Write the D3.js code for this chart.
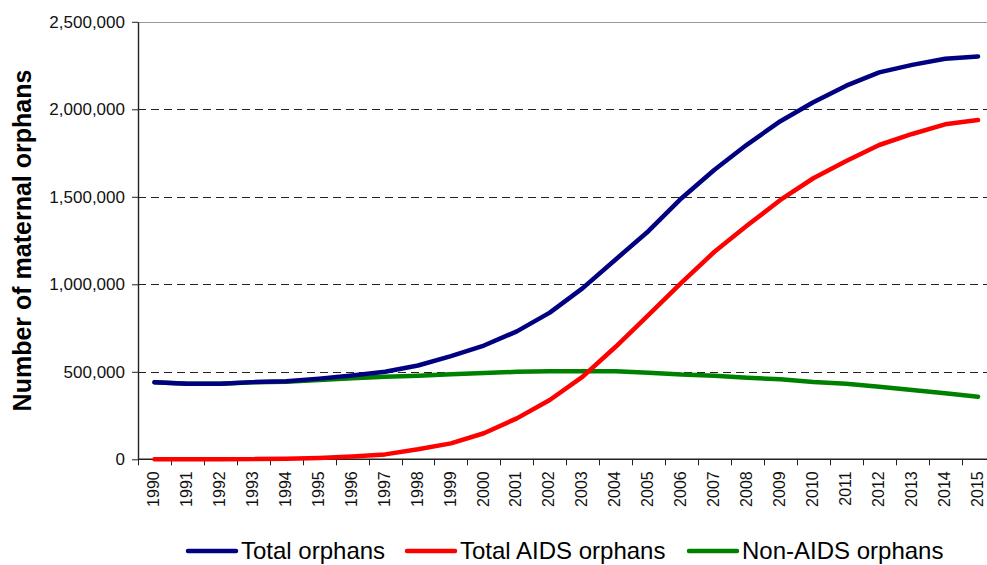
<!DOCTYPE html>
<html>
<head>
<meta charset="utf-8">
<script src="https://cdn.jsdelivr.net/npm/d3@7"></script>
<style>
    body { margin: 0; background: #fff; }
    svg { display: block; font-family: "Liberation Sans", Arial, sans-serif; }
</style>
</head>
<body>
<svg id="chart" width="987" height="565"></svg>
<script>
// Data
const years = ['1990','1991','1992','1993','1994','1995','1996','1997','1998','1999','2000','2001','2002',
               '2003','2004','2005','2006','2007','2008','2009','2010','2011','2012','2013','2014','2015'];

const total_orphans = [440000, 432000, 432000, 441000, 446000, 461000, 479000, 500000, 536000, 590000, 650000, 731000, 838000,
                       978000, 1142000, 1305000, 1492000, 1655000, 1800000, 1932000, 2040000, 2135000, 2211000, 2254000, 2289000, 2302000];

const aids_orphans = [0, 0, 0, 1000, 3000, 8000, 16000, 28000, 57000, 91000, 149000, 234000, 339000,
                      472000, 643000, 825000, 1010000, 1186000, 1337000, 1482000, 1606000, 1704000, 1796000, 1859000, 1914000, 1939000];

const non_aids_orphans = [440000, 432000, 432000, 440000, 443000, 453000, 463000, 472000, 478000, 486000, 493000, 500000, 503000,
                          503000, 503000, 495000, 484000, 478000, 466000, 457000, 442000, 432000, 415000, 396000, 377000, 358000];

const y_ticks = [0, 500000, 1000000, 1500000, 2000000, 2500000];

const series = [
    {'name': 'Total orphans', 'values': total_orphans, 'color': '#000080'},
    {'name': 'Total AIDS orphans', 'values': aids_orphans, 'color': '#ff0000'},
    {'name': 'Non-AIDS orphans', 'values': non_aids_orphans, 'color': '#008000'}
];

// Render params
const width = 987, height = 565;
const plot_left = 138, plot_right = 994.5;
const plot_top = 21.8, plot_bottom = 459.3;

const svg = d3.select('#chart');

let x = d3.scaleBand()
    .domain(years)
    .range([plot_left, plot_right]);

let y = d3.scaleLinear()
    .domain([0, 2500000])
    .range([plot_bottom, plot_top]);

// grid lines
svg.append('g')
    .selectAll('line')
    .data(y_ticks.filter(d => d > 0))
    .join('line')
    .attr('x1', plot_left)
    .attr('x2', width)
    .attr('y1', d => Math.round(y(d)) + 0.5)
    .attr('y2', d => Math.round(y(d)) + 0.5)
    .attr('stroke', d => d == 2500000 ? '#999' : '#222')
    .attr('stroke-width', 1)
    .attr('stroke-dasharray', d => d == 2500000 ? null : '8,5');

// y axis
let y_axis = svg.append('g')
    .attr('transform', `translate(${plot_left}, 0)`)
    .call(d3.axisLeft(y)
        .tickValues(y_ticks)
        .tickFormat(d3.format(','))
        .tickSize(6)
        .tickSizeOuter(0)
        .tickPadding(7));

y_axis.select('.domain')
    .attr('stroke', '#222')
    .attr('stroke-width', 1.4);

y_axis.selectAll('.tick line').attr('stroke', '#222');
y_axis.selectAll('.tick text')
    .attr('font-size', 17)
    .attr('fill', '#111')
    .style('font-family', '"Liberation Sans", Arial, sans-serif');

// x axis (ticks between the categories)
let x_axis = svg.append('g');

x_axis.append('line')
    .attr('x1', plot_left)
    .attr('x2', width)
    .attr('y1', plot_bottom)
    .attr('y2', plot_bottom)
    .attr('stroke', '#222')
    .attr('stroke-width', 1.4);

x_axis.selectAll('line.tick')
    .data(years)
    .join('line')
    .classed('tick', true)
    .attr('x1', d => Math.round(x(d)) + 0.5)
    .attr('x2', d => Math.round(x(d)) + 0.5)
    .attr('y1', plot_bottom)
    .attr('y2', plot_bottom + 6)
    .attr('stroke', '#222');

x_axis.selectAll('text')
    .data(years)
    .join('text')
    .attr('transform', d => `translate(${x(d) + x.bandwidth()/2 - 1}, ${plot_bottom + 12}) rotate(-90)`)
    .attr('text-anchor', 'end')
    .attr('dy', '0.35em')
    .attr('font-size', 16)
    .attr('fill', '#111')
    .text(d => d);

// y axis title
svg.append('text')
    .attr('transform', `translate(31, ${(plot_top + plot_bottom)/2}) rotate(-90)`)
    .attr('text-anchor', 'middle')
    .attr('font-size', 25)
    .attr('font-weight', 'bold')
    .attr('fill', '#000')
    .text('Number of maternal orphans');

// lines
const line_gen = (values) => d3.line()
    .x((d, i) => x(years[i]) + x.bandwidth()/2)
    .y(d => y(d))(values);

svg.append('g')
    .selectAll('path')
    .data(series.slice().reverse())
    .join('path')
    .attr('d', d => line_gen(d.values))
    .attr('fill', 'none')
    .attr('stroke', d => d.color)
    .attr('stroke-width', 4.5)
    .attr('stroke-linejoin', 'round')
    .attr('stroke-linecap', 'round');

// legend
const legend_pos = [186, 405, 687];
let legend = svg.append('g')
    .selectAll('g')
    .data(series)
    .join('g')
    .attr('transform', (d, i) => `translate(${legend_pos[i]}, 551)`);

legend.append('line')
    .attr('x1', 2)
    .attr('x2', 50)
    .attr('stroke', d => d.color)
    .attr('stroke-width', 4.5)
    .attr('stroke-linecap', 'round');

legend.append('text')
    .attr('x', 55)
    .attr('y', 8)
    .attr('font-size', 24)
    .attr('fill', '#000')
    .text(d => d.name);
</script>
</body>
</html>
